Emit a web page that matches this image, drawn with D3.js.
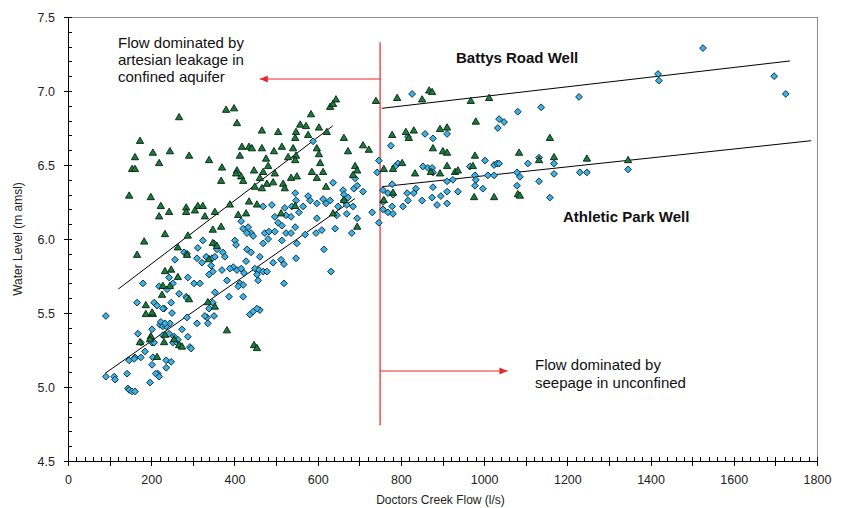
<!DOCTYPE html>
<html><head><meta charset="utf-8">
<script src="https://cdn.jsdelivr.net/npm/d3@7"></script>
<style>
html,body{margin:0;padding:0;background:#fff;}
svg{display:block;font-family:"Liberation Sans",Arial,sans-serif;}
</style></head>
<body>
<svg id="chart" width="843" height="508"></svg>
<script>
// ---- Data (Doctors Creek Flow l/s, Water Level m amsl) ----
const battysRoad = [[173,6.66],[161,6.55],[154,6.47],[161,6.47],[204,6.58],[219,6.51],[245,6.59],[267,6.82],[291,6.56],[339,6.53],[370,6.48],[368,6.39],[380,6.87],[399,6.88],[406,6.78],[418,6.62],[435,6.62],[442,6.61],[466,6.73],[466,6.61],[505,6.72],[495,6.59],[514,6.62],[541,6.61],[558,6.77],[572,6.76],[548,6.72],[577,6.70],[603,6.75],[622,6.72],[546,6.68],[584,6.84],[630,6.89],[637,6.91],[644,6.94],[663,6.68],[598,6.61],[673,6.59],[413,6.56],[476,6.54],[529,6.55],[548,6.56],[546,6.53],[603,6.57],[481,6.49],[606,6.51],[447,6.46],[469,6.45],[497,6.44],[406,6.46],[404,6.44],[416,6.42],[421,6.39],[461,6.41],[478,6.37],[493,6.38],[517,6.37],[521,6.34],[449,6.35],[466,6.34],[536,6.41],[550,6.42],[586,6.45],[613,6.45],[598,6.41],[620,6.35],[690,6.49],[695,6.46],[685,6.43],[435,6.25],[454,6.23],[546,6.22],[389,6.23],[147,6.29],[199,6.28],[223,6.22],[284,6.21],[312,6.22],[324,6.22],[219,6.15],[243,6.18],[284,6.18],[305,6.19],[329,6.15],[353,6.18],[183,5.98],[233,6.03],[288,6.02],[166,5.89],[264,5.94],[286,5.89],[348,6.06],[348,5.97],[358,5.95],[339,5.86],[233,5.78],[248,5.79],[264,5.74],[228,5.68],[245,5.68],[226,5.62],[187,5.49],[204,5.49],[336,5.57],[353,5.54],[199,5.34],[233,5.35],[173,5.30],[231,5.30],[255,5.32],[267,5.28],[274,5.27],[214,5.20],[382,5.38],[447,5.28],[454,5.26],[409,6.16],[428,6.17],[512,6.17],[637,6.17],[695,6.08],[368,6.08],[291,5.59],[740,6.93],[791,6.95],[851,6.94],[868,7.00],[875,6.99],[968,6.93],[1012,6.95],[980,6.79],[709,6.63],[723,6.60],[779,6.70],[812,6.72],[831,6.73],[819,6.68],[894,6.74],[911,6.75],[877,6.61],[901,6.59],[911,6.58],[911,6.49],[894,6.44],[930,6.45],[937,6.46],[872,6.45],[834,6.44],[759,6.47],[781,6.47],[803,6.51],[781,6.31],[759,6.26],[978,6.56],[973,6.49],[976,6.28],[1024,6.28],[1084,6.58],[1081,6.30],[1086,6.29],[1132,6.53],[1168,6.55],[1158,6.68],[1247,6.54],[1346,6.53],[663,6.26],[187,5.55],[202,5.50],[197,5.32]];

const athleticPark = [[91,5.48],[166,5.57],[207,5.57],[231,5.53],[248,5.57],[168,5.36],[175,5.30],[202,5.39],[202,5.30],[207,5.30],[221,5.42],[223,5.44],[228,5.41],[236,5.41],[245,5.43],[228,5.35],[243,5.36],[252,5.30],[262,5.30],[264,5.32],[274,5.39],[286,5.47],[288,5.34],[293,5.27],[310,5.43],[334,5.47],[336,5.43],[339,5.53],[348,5.57],[185,5.24],[161,5.20],[147,5.18],[175,5.20],[204,5.20],[202,5.15],[236,5.18],[248,5.17],[236,5.13],[216,5.09],[211,5.09],[219,5.07],[197,5.03],[142,5.09],[111,5.07],[113,5.05],[91,5.07],[144,4.99],[147,4.98],[154,4.97],[161,4.97],[437,5.49],[445,5.51],[461,5.52],[454,5.53],[233,5.43],[255,5.34],[296,5.26],[159,5.19],
[324,5.99],[312,5.94],[351,5.97],[358,5.93],[279,5.91],[286,5.90],[257,5.86],[310,5.87],[322,5.84],[332,5.88],[346,5.87],[353,5.88],[344,5.82],[348,5.78],[288,5.74],[303,5.70],[317,5.70],[243,5.74],[219,5.68],[238,5.66],[180,5.70],[252,5.70],[339,5.76],[353,5.64],[267,5.63],[284,5.61],[286,5.60],[214,5.55],[228,5.53],[250,5.50],[351,5.48],[329,5.48],
[416,6.12],[497,6.15],[524,6.16],[536,6.15],[555,6.18],[505,6.11],[514,6.09],[421,6.07],[433,6.08],[440,6.04],[445,6.02],[430,6.04],[473,6.04],[483,6.05],[481,6.00],[469,5.97],[497,6.05],[524,6.04],[536,6.04],[546,6.08],[514,5.99],[550,5.97],[570,6.03],[596,6.04],[610,6.06],[642,6.07],[598,6.14],[670,6.17],[646,6.16],[682,6.04],[615,5.93],[401,5.99],[404,5.96],[372,5.91],[377,5.88],[430,5.93],[440,5.91],[428,5.85],[461,5.88],[493,5.84],[512,5.86],[519,5.83],[548,5.87],[397,5.81],[389,5.80],[406,5.79],[416,5.80],[423,5.77],[449,5.80],[459,5.79],[469,5.78],[478,5.78],[454,5.76],[457,5.72],[382,5.72],[370,5.79],[413,5.70],[421,5.69],[409,5.68],[519,5.70],[632,5.78],[387,5.61],[421,5.61],
[589,6.66],[548,6.26],[637,6.38],[661,6.33],[663,6.26],[687,6.34],[695,6.36],[577,6.29],[582,6.26],[598,6.24],[613,6.27],[620,6.24],[630,6.26],[469,6.22],[490,6.23],[521,6.21],[538,6.22],[565,6.22],[649,6.22],[685,6.22],[690,6.41],[673,6.28],[546,6.31],
[827,6.98],[1081,6.86],[1137,6.89],[1228,6.96],[1036,6.81],[1048,6.79],[1033,6.75],[776,6.63],[858,6.71],[877,6.68],[911,6.71],[817,6.69],[747,6.53],[793,6.51],[786,6.49],[743,6.45],[853,6.49],[865,6.48],[875,6.48],[877,6.45],[966,6.49],[978,6.43],[1002,6.53],[1024,6.50],[1031,6.51],[1036,6.51],[1009,6.43],[1024,6.43],[1079,6.45],[1086,6.42],[1105,6.51],[1132,6.55],[1168,6.51],[1168,6.44],[1132,6.39],[1079,6.36],[997,6.34],[978,6.36],[980,6.40],[937,6.32],[911,6.32],[925,6.40],[911,6.39],[877,6.35],[875,6.28],[896,6.29],[911,6.24],[887,6.23],[851,6.26],[836,6.34],[831,6.31],[815,6.31],[817,6.26],[779,6.37],[769,6.31],[781,6.30],[757,6.33],[757,6.25],[805,6.22],[779,6.22],[757,6.20],[769,6.18],[781,6.17],[747,6.11],[695,6.14],[670,6.23],[663,6.30],[709,6.32],[1230,6.45],[1247,6.45],[1346,6.47],[1158,6.28],[731,6.18],
[1526,7.29],[1418,7.115],[1420,7.07],[1697,7.10],[1725,6.98]];

// trend lines
const battysFitLow = [[121,5.662],[636,6.764]];
const athleticFitLow = [[89,5.092],[690,6.274]];
const battysFitHigh = [[754,6.883],[1735,7.203]];
const athleticFitHigh = [[754,6.353],[1786,6.664]];

// divider and arrows
const dividerLine = [[750,7.33],[750,4.74]];
const arrowLeft = [[750,7.081],[461,7.081]];
const arrowRight = [[750,5.108],[1056,5.108]];

const xTickLabels = [0,200,400,600,800,1000,1200,1400,1600,1800];
const yTickLabels = [4.5,5.0,5.5,6.0,6.5,7.0,7.5];
const xTitle = "Doctors Creek Flow (l/s)";
const yTitle = "Water Level (m amsl)";
const noteLeft = ["Flow dominated by","artesian leakage in","confined aquifer"];
const noteRight = ["Flow dominated by","seepage in unconfined"];
const seriesLabels = ["Battys Road Well","Athletic Park Well"];

// ---- Layout ----
const svg = d3.select("#chart");
const m = {left:68, top:17, right:26, bottom:47};
const W = 843, H = 508;
const x = d3.scaleLinear().domain([0,1800]).range([m.left, W-m.right]);
const y = d3.scaleLinear().domain([4.5,7.5]).range([H-m.bottom, m.top]);
const x0 = x.range()[0], x1 = x.range()[1], y0 = y.range()[0], y1 = y.range()[1];

// plot frame (top & right light)
svg.append("path").attr("d",`M${x0},${y1}H${x1}V${y0}`).attr("fill","none").attr("stroke","#8c8c8c").attr("stroke-width",1).attr("shape-rendering","crispEdges");

const tickColor = "#000";
const fontSize = "12.5px";

// X axis: minor (inside) every 20, major crossing every 100, labels every 200
const xMinor = d3.range(0,1801,20);
const xMajor = d3.range(0,1801,100);
const gx = svg.append("g").attr("transform",`translate(0,${y0})`);
gx.call(d3.axisBottom(x).tickValues(xMinor).tickSize(-4).tickFormat(""));
gx.append("g").call(d3.axisBottom(x).tickValues(xMajor).tickSize(5).tickFormat(""));
gx.append("g").call(d3.axisBottom(x).tickValues(xMajor).tickSize(-4).tickFormat(""));
gx.append("g").call(d3.axisBottom(x).tickValues(xTickLabels).tickSize(0).tickPadding(14).tickFormat(d3.format("d")));
gx.selectAll(".domain").attr("stroke",tickColor);
gx.selectAll("line").attr("stroke",tickColor).attr("shape-rendering","crispEdges");
gx.selectAll("text").attr("font-size",fontSize).attr("font-family","Liberation Sans, Arial, sans-serif").attr("fill","#222");

// Y axis: minor every 0.1 inside, major crossing every 0.5
const yMinor = d3.range(45,76,1).map(v=>v/10);
const gy = svg.append("g").attr("transform",`translate(${x0},0)`);
gy.call(d3.axisLeft(y).tickValues(yMinor).tickSize(-4).tickFormat(""));
gy.append("g").call(d3.axisLeft(y).tickValues(yTickLabels).tickSize(4).tickPadding(9).tickFormat(d3.format(".1f")));
gy.selectAll(".domain").attr("stroke",tickColor);
gy.selectAll("line").attr("stroke",tickColor).attr("shape-rendering","crispEdges");
gy.selectAll("text").attr("font-size",fontSize).attr("font-family","Liberation Sans, Arial, sans-serif").attr("fill","#222");

// axis titles
svg.append("text").attr("x",(x0+x1)/2 - 2).attr("y",504).attr("text-anchor","middle")
  .attr("font-size","12px").attr("fill","#222").text(xTitle);
svg.append("text").attr("transform",`translate(22,${(y0+y1)/2}) rotate(-90)`).attr("text-anchor","middle")
  .attr("font-size","12px").attr("fill","#222").text(yTitle);

// red divider & arrows
const red = "#e8262c";
const line = d3.line().x(d=>x(d[0])).y(d=>y(d[1]));
svg.append("path").attr("d",line(dividerLine)).attr("stroke",red).attr("stroke-width",1.2).attr("fill","none");
function arrow(pts){
  svg.append("path").attr("d",line(pts)).attr("stroke",red).attr("stroke-width",1.2).attr("fill","none");
  const tx = x(pts[1][0]), ty = y(pts[1][1]);
  const dir = Math.sign(pts[1][0]-pts[0][0]);
  svg.append("path").attr("d",`M${tx},${ty}L${tx-dir*8},${ty-3.5}L${tx-dir*8},${ty+3.5}Z`).attr("fill",red);
}
arrow(arrowLeft);
arrow(arrowRight);

// trend lines
[battysFitLow, athleticFitLow, battysFitHigh, athleticFitHigh].forEach(l=>{
  svg.append("path").attr("d",line(l)).attr("stroke","#000").attr("stroke-width",1).attr("fill","none");
});

// markers
const diamond = d3.symbol().type(d3.symbolSquare).size(23);
const tri = d3.symbol().type(d3.symbolTriangle).size(23);
svg.append("g").selectAll("path").data(athleticPark).join("path")
  .attr("d",diamond)
  .attr("transform",d=>`translate(${x(d[0])},${y(d[1])}) rotate(45)`)
  .attr("fill","#3bb3e6").attr("stroke","#0b2a3a").attr("stroke-width",0.9);
svg.append("g").selectAll("path").data(battysRoad).join("path")
  .attr("d",tri)
  .attr("transform",d=>`translate(${x(d[0])},${y(d[1])})`)
  .attr("fill","#1b7a3e").attr("stroke","#06210f").attr("stroke-width",0.9);

// annotations
const noteL = svg.append("text").attr("font-size","15px").attr("fill","#111");
noteLeft.forEach((t,i)=>noteL.append("tspan").attr("x",118).attr("y",48+i*17).text(t));
const noteR = svg.append("text").attr("font-size","15px").attr("fill","#111");
noteRight.forEach((t,i)=>noteR.append("tspan").attr("x",535).attr("y",370+i*18).text(t));
svg.append("text").attr("x",456).attr("y",63).attr("font-size","15px").attr("font-weight","bold").attr("fill","#111").text(seriesLabels[0]);
svg.append("text").attr("x",563).attr("y",222).attr("font-size","15px").attr("font-weight","bold").attr("fill","#111").text(seriesLabels[1]);
</script>
</body></html>
